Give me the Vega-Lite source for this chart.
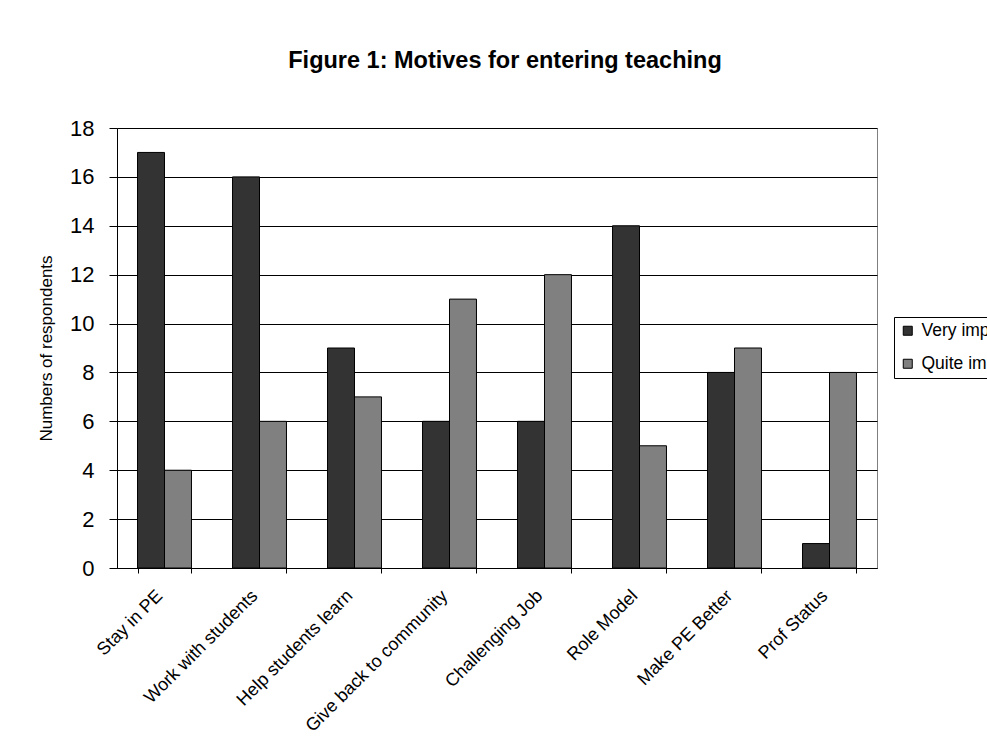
{
  "$schema": "https://vega.github.io/schema/vega-lite/v6.json",
  "autosize": {"type": "none"},
  "width": 760,
  "height": 440,
  "padding": {"left": 117, "top": 128, "right": 110, "bottom": 174},
  "background": "white",
  "title": {
    "text": "Figure 1: Motives for entering teaching",
    "font": "Liberation Sans",
    "fontSize": 23.5,
    "fontWeight": "bold",
    "color": "black",
    "anchor": "middle",
    "dx": 8,
    "offset": 45
  },
  "config": {
    "font": "Liberation Sans",
    "view": {"stroke": "#808080", "strokeWidth": 1}
  },
  "data": {
    "values": [
      {"motive": "Stay in PE", "rating": "Very important", "count": 17},
      {"motive": "Stay in PE", "rating": "Quite important", "count": 4},
      {"motive": "Work with students", "rating": "Very important", "count": 16},
      {"motive": "Work with students", "rating": "Quite important", "count": 6},
      {"motive": "Help students learn", "rating": "Very important", "count": 9},
      {"motive": "Help students learn", "rating": "Quite important", "count": 7},
      {"motive": "Give back to community", "rating": "Very important", "count": 6},
      {"motive": "Give back to community", "rating": "Quite important", "count": 11},
      {"motive": "Challenging Job", "rating": "Very important", "count": 6},
      {"motive": "Challenging Job", "rating": "Quite important", "count": 12},
      {"motive": "Role Model", "rating": "Very important", "count": 14},
      {"motive": "Role Model", "rating": "Quite important", "count": 5},
      {"motive": "Make PE Better", "rating": "Very important", "count": 8},
      {"motive": "Make PE Better", "rating": "Quite important", "count": 9},
      {"motive": "Prof Status", "rating": "Very important", "count": 1},
      {"motive": "Prof Status", "rating": "Quite important", "count": 8}
    ]
  },
  "mark": {"type": "bar", "stroke": "black", "strokeWidth": 1},
  "encoding": {
    "x": {
      "field": "motive",
      "type": "nominal",
      "sort": null,
      "scale": {"paddingInner": 0.432, "paddingOuter": 0.216},
      "axis": {
        "title": null,
        "labelAngle": -45,
        "labelAlign": "right",
        "labelBaseline": "middle",
        "labelFontSize": 18,
        "labelColor": "black",
        "labelPadding": 20,
        "labelOffset": -5,
        "labelLimit": 0,
        "ticks": true,
        "tickBand": "extent",
        "tickSize": 5,
        "tickColor": "black",
        "domain": true,
        "domainColor": "black"
      }
    },
    "xOffset": {"field": "rating", "type": "nominal", "sort": ["Very important", "Quite important"]},
    "y": {
      "field": "count",
      "type": "quantitative",
      "scale": {"domain": [0, 18]},
      "axis": {
        "title": "Numbers of respondents",
        "titleFontSize": 17,
        "titleFontWeight": "normal",
        "titleColor": "black",
        "titlePadding": 14,
        "values": [0, 2, 4, 6, 8, 10, 12, 14, 16, 18],
        "labelFontSize": 22,
        "labelColor": "black",
        "labelPadding": 15,
        "tickSize": 8,
        "tickColor": "black",
        "domainColor": "black",
        "grid": true,
        "gridColor": "black",
        "gridOpacity": 1
      }
    },
    "color": {
      "field": "rating",
      "type": "nominal",
      "sort": ["Very important", "Quite important"],
      "scale": {"domain": ["Very important", "Quite important"], "range": ["#333333", "#808080"]},
      "legend": {
        "title": null,
        "orient": "none",
        "legendX": 777,
        "legendY": 189,
        "direction": "vertical",
        "strokeColor": "black",
        "fillColor": "white",
        "padding": 5,
        "symbolType": "square",
        "symbolSize": 81,
        "symbolStrokeColor": "black",
        "symbolStrokeWidth": 1,
        "symbolOpacity": 1,
        "labelFontSize": 17.5,
        "labelColor": "black",
        "labelOffset": 5,
        "rowPadding": 14,
        "labelLimit": 0
      }
    }
  }
}
